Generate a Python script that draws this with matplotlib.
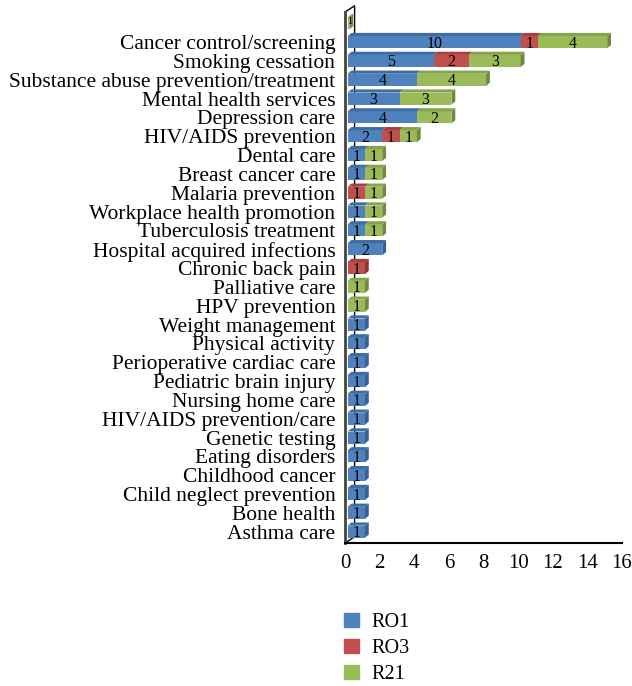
import matplotlib.pyplot as plt
from matplotlib.patches import Polygon
import numpy as np

plt.rcParams['font.family'] = ['Liberation Serif', 'DejaVu Serif']

# --- data (top to bottom) ---
categories = ['', 'Cancer control/screening', 'Smoking cessation',
              'Substance abuse prevention/treatment', 'Mental health services',
              'Depression care', 'HIV/AIDS prevention', 'Dental care',
              'Breast cancer care', 'Malaria prevention', 'Workplace health promotion',
              'Tuberculosis treatment', 'Hospital acquired infections',
              'Chronic back pain', 'Palliative care', 'HPV prevention',
              'Weight management', 'Physical activity', 'Perioperative cardiac care',
              'Pediatric brain injury', 'Nursing home care', 'HIV/AIDS prevention/care',
              'Genetic testing', 'Eating disorders', 'Childhood cancer',
              'Child neglect prevention', 'Bone health', 'Asthma care']
ro1 = [0, 10, 5, 4, 3, 4, 2, 1, 1, 0, 1, 1, 2, 0, 0, 0, 1, 1, 1, 1, 1, 1, 1, 1, 1, 1, 1, 1]
ro3 = [0, 1, 2, 0, 0, 0, 1, 0, 0, 1, 0, 0, 0, 1, 0, 0, 0, 0, 0, 0, 0, 0, 0, 0, 0, 0, 0, 0]
r21 = [0.1, 4, 3, 4, 3, 2, 1, 1, 1, 1, 1, 1, 0, 0, 1, 1, 0, 0, 0, 0, 0, 0, 0, 0, 0, 0, 0, 0]
series = [('RO1', ro1), ('RO3', ro3), ('R21', r21)]

colors = {'RO1': '#4F81BD', 'RO3': '#C0504D', 'R21': '#9BBB59'}
top_cols = {'RO1': '#3E6DA6', 'RO3': '#A8403D', 'R21': '#86A54A'}
side_cols = {'RO1': '#35609A', 'RO3': '#8E3532', 'R21': '#6F8A3A'}

fig = plt.figure(figsize=(6.32, 6.86), dpi=100)
ax = fig.add_axes([0.546, 0.2085, 0.438, 0.774])

y = np.arange(len(categories))
h = 0.64        # bar thickness (rows)
dx, dy = 0.22, 0.17   # 3D depth of bars

left = np.zeros(len(categories))
last = [None] * len(categories)
for name, vals in series:
    vals = np.array(vals, dtype=float)
    ax.barh(y, vals, left=left + 0.15, height=h, color=colors[name], zorder=3, label=name)
    for i, v in enumerate(vals):
        if v <= 0:
            continue
        l, r = left[i] + 0.15, left[i] + v + 0.15
        yt = y[i] - h / 2
        ax.add_patch(Polygon([(l, yt), (r, yt), (r + dx, yt - dy), (l + dx, yt - dy)],
                             closed=True, facecolor=top_cols[name], edgecolor='none', zorder=3))
        if v >= 0.5:
            ax.text((l + r) / 2, y[i] + 0.08, f'{int(v)}', ha='center', va='center',
                    fontsize=11.5, zorder=5)
        else:
            ax.text(l + 0.12, y[i] - 0.1, '1', ha='center', va='center', fontsize=7, zorder=5)
        last[i] = (name, r)
    left += vals

# right side faces
for i, item in enumerate(last):
    if item is None:
        continue
    name, r = item
    yt, yb = y[i] - h / 2, y[i] + h / 2
    ax.add_patch(Polygon([(r, yt), (r, yb), (r + dx, yb - dy), (r + dx, yt - dy)],
                         closed=True, facecolor=side_cols[name], edgecolor='none', zorder=3))

ax.set_xlim(0, 16)
ax.set_ylim(len(categories) - 0.4, -0.6)
ax.set_xticks(range(0, 17, 2))
ax.set_yticks(y)
ax.set_yticklabels(categories, fontsize=15.5)
ax.tick_params(axis='both', length=0)
ax.tick_params(axis='y', pad=7)
ax.tick_params(axis='x', labelsize=15, pad=8)

for s in ['top', 'right']:
    ax.spines[s].set_visible(False)
ax.spines['left'].set_color('#444444')
ax.spines['left'].set_linewidth(2)
ax.spines['bottom'].set_linewidth(1.5)

# back wall line
ylo, yhi = ax.get_ylim()
wd, wy = 0.55, 0.33
ax.plot([0, wd, wd, 0], [ylo, ylo - wy, yhi - wy, yhi], color='black', lw=1,
        clip_on=False, zorder=2)

handles = [plt.Rectangle((0, 0), 1, 1, color=colors[n]) for n, _ in series]
fig.legend(handles, [n for n, _ in series], loc='upper left',
           bbox_to_anchor=(0.545, 0.106), frameon=False, fontsize=14.5,
           handlelength=0.7, handleheight=0.7, labelspacing=0.34,
           handletextpad=0.65, borderaxespad=0, borderpad=0)

fig.savefig('out.png', dpi=100)
